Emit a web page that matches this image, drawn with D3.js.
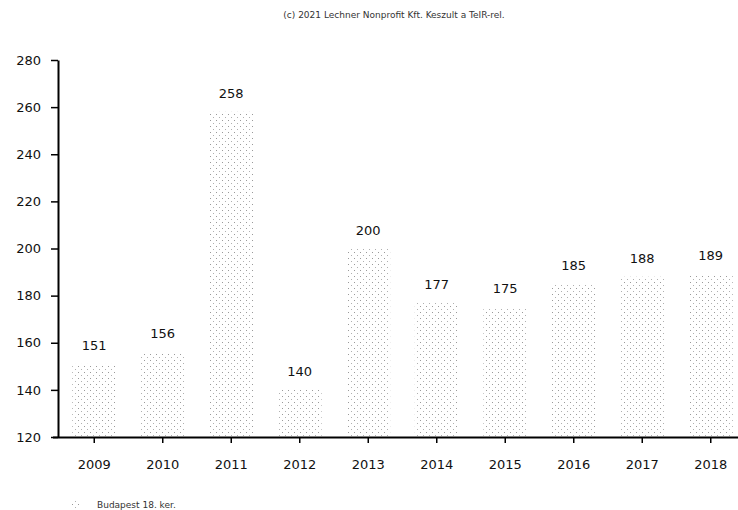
<!DOCTYPE html>
<html><head><meta charset="utf-8">
<script src="https://cdn.jsdelivr.net/npm/d3@7"></script>
<style>html,body{margin:0;padding:0;background:#fff;overflow:hidden}</style>
</head><body>
<script>
const years = ["2009","2010","2011","2012","2013","2014","2015","2016","2017","2018"];
const values = [151,156,258,140,200,177,175,185,188,189];
const yTicks = [120,140,160,180,200,220,240,260,280];
const seriesName = "Budapest 18. ker.";
const credit = "(c) 2021 Lechner Nonprofit Kft. Keszult a TeIR-rel.";

const W = 738, H = 510;
const svg = d3.select("body").append("svg").attr("width", W).attr("height", H)
  .style("font-family", "'DejaVu Sans', sans-serif");

const defs = svg.append("defs");
const pat = defs.append("pattern").attr("id","dots").attr("patternUnits","userSpaceOnUse")
  .attr("width",6).attr("height",6);
pat.append("rect").attr("x",0).attr("y",0).attr("width",1).attr("height",1).attr("fill","#9a9a9a");
pat.append("rect").attr("x",3).attr("y",3).attr("width",1).attr("height",1).attr("fill","#b0b0b0");

const x = d3.scaleBand().domain(years).range([60, 745]).paddingInner(0.36).paddingOuter(0.18);
const y = d3.scaleLinear().domain([120, 280]).range([437, 60]);

// bars
svg.append("g").selectAll("rect").data(values).join("rect")
  .attr("x", (d,i) => x(years[i]))
  .attr("y", d => y(d))
  .attr("width", x.bandwidth())
  .attr("height", d => y(120) - y(d))
  .attr("fill", "url(#dots)");

// value labels
svg.append("g").selectAll("text").data(values).join("text")
  .attr("x", (d,i) => x(years[i]) + x.bandwidth()/2)
  .attr("y", d => y(d) - 14)
  .attr("text-anchor","middle")
  .attr("font-size", 13)
  .attr("fill", "#111")
  .text(d => d);

// y axis
const yAxis = svg.append("g").attr("transform","translate(58,0)")
  .call(d3.axisLeft(y).tickValues(yTicks).tickSize(7).tickPadding(10).tickSizeOuter(0));
yAxis.select(".domain").attr("stroke","#000").attr("stroke-width",2);
yAxis.selectAll(".tick line").attr("stroke","#000").attr("stroke-width",1.5);
yAxis.selectAll(".tick text").attr("font-size",13).attr("fill","#111")
  .attr("font-family","'DejaVu Sans', sans-serif");

// x axis
const xAxis = svg.append("g").attr("transform","translate(0,437)")
  .call(d3.axisBottom(x).tickSize(6).tickPadding(17).tickSizeOuter(0));
xAxis.select(".domain").attr("stroke","#000").attr("stroke-width",2)
  .attr("d","M53,0.5H745");
xAxis.selectAll(".tick line").attr("stroke","#000").attr("stroke-width",1.5);
xAxis.selectAll(".tick text").attr("font-size",13).attr("fill","#111")
  .attr("font-family","'DejaVu Sans', sans-serif");

// credit
svg.append("text").attr("x", 394).attr("y", 18).attr("text-anchor","middle")
  .attr("font-size", 9).attr("fill","#333").text(credit);

// legend
svg.append("rect").attr("x",70).attr("y",500).attr("width",9).attr("height",9).attr("fill","url(#dots)");
svg.append("text").attr("x",97).attr("y",508).attr("font-size",9).attr("fill","#333").text(seriesName);
</script>
</body></html>
